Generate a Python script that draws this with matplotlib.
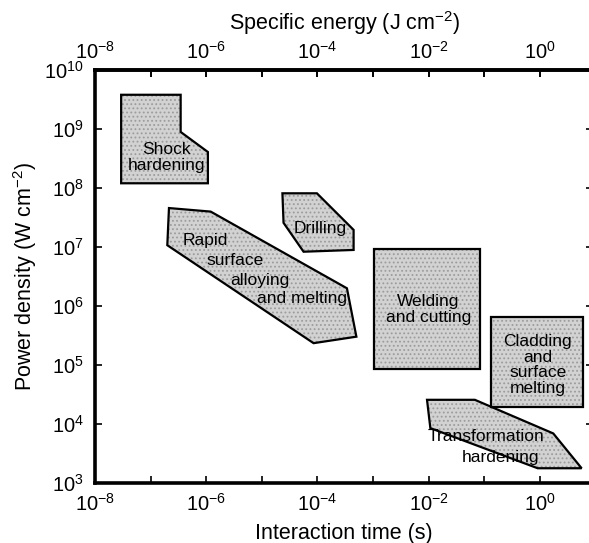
import numpy as np
import matplotlib
matplotlib.use('Agg')
import matplotlib.pyplot as plt
from matplotlib.patches import Polygon
from matplotlib.ticker import FixedLocator, FuncFormatter, NullLocator

plt.rcParams['font.family'] = ['Liberation Sans', 'DejaVu Sans']
plt.rcParams['mathtext.fontset'] = 'custom'
plt.rcParams['mathtext.rm'] = 'Liberation Sans'
plt.rcParams['mathtext.it'] = 'Liberation Sans:italic'
plt.rcParams['mathtext.bf'] = 'Liberation Sans:bold'
plt.rcParams['axes.unicode_minus'] = False
plt.rcParams['hatch.linewidth'] = 0.8

# process regions, vertices as log10 of (interaction time s, power density W/cm2)
shock_t = [-7.53, -6.46, -6.46, -5.97, -5.97, -7.53]
shock_p = [9.58, 9.58, 8.95, 8.61, 8.08, 8.08]

drill_t = [-4.63, -4.01, -3.35, -3.35, -4.25, -4.61]
drill_p = [7.91, 7.91, 7.29, 6.95, 6.92, 7.41]

rapid_t = [-6.67, -5.92, -3.47, -3.30, -4.07, -6.70]
rapid_p = [7.66, 7.60, 6.30, 5.48, 5.37, 7.03]

weld_t = [-2.99, -1.08, -1.08, -2.99]
weld_p = [6.96, 6.96, 4.93, 4.93]

clad_t = [-0.88, 0.77, 0.77, -0.88]
clad_p = [5.82, 5.82, 4.29, 4.29]

trans_t = [-2.03, -1.17, 0.24, 0.75, -0.04, -1.97]
trans_p = [4.41, 4.41, 3.84, 3.25, 3.25, 3.93]

regions = [(shock_t, shock_p), (drill_t, drill_p), (rapid_t, rapid_p),
           (weld_t, weld_p), (clad_t, clad_p), (trans_t, trans_p)]

# labels: text, log10 t, log10 p
label_text = ['Shock\nhardening', 'Drilling', 'Rapid', 'surface', 'alloying',
              'and melting', 'Welding\nand cutting',
              'Cladding\nand\nsurface\nmelting', 'Transformation', 'hardening']
label_t = [-6.72, -3.95, -6.02, -5.48, -5.03, -4.27, -2.01, -0.04, -0.97, -0.70]
label_p = [8.51, 7.32, 7.11, 6.77, 6.44, 6.13, 5.94, 5.00, 3.79, 3.43]

x_exp = np.arange(-8, 1)
y_exp = np.arange(3, 11)

fig = plt.figure(figsize=(5.89, 5.43), dpi=100)
ax = fig.add_axes([0.1613, 0.1105, 0.8460, 0.7606])
ax.set_xscale('log')
ax.set_yscale('log')
ax.set_xlim(1e-8, 10 ** 0.96)
ax.set_ylim(1e3, 1e10)

# stippled grey fill like the printed figure, then black outline on top
for t, p in regions:
    xy = np.column_stack([10.0 ** np.array(t), 10.0 ** np.array(p)])
    fill = Polygon(xy, closed=True, facecolor='#d2d2d2', edgecolor='#9c9c9c',
                   hatch='....', linewidth=0, zorder=2)
    ax.add_patch(fill)
    edge = Polygon(xy, closed=True, fill=False, edgecolor='black',
                   linewidth=1.6, joinstyle='miter', zorder=2.5)
    ax.add_patch(edge)

for s, t, p in zip(label_text, label_t, label_p):
    ax.text(10.0 ** t, 10.0 ** p, s, ha='center', va='center', fontsize=12.5,
            linespacing=1.08, zorder=3)


def xfmt(v, pos):
    e = int(round(np.log10(v)))
    if e % 2 == 0:
        return r'$\mathregular{10^{%d}}$' % e
    return ''


def yfmt(v, pos):
    e = int(round(np.log10(v)))
    return r'$\mathregular{10^{%d}}$' % e


ax.xaxis.set_major_locator(FixedLocator(10.0 ** x_exp))
ax.xaxis.set_major_formatter(FuncFormatter(xfmt))
ax.xaxis.set_minor_locator(NullLocator())
ax.yaxis.set_major_locator(FixedLocator(10.0 ** y_exp))
ax.yaxis.set_major_formatter(FuncFormatter(yfmt))
ax.yaxis.set_minor_locator(NullLocator())
ax.tick_params(which='major', direction='in', length=5, width=1.2,
               labelsize=14.5, top=True, right=True)
ax.tick_params(axis='x', pad=7)
ax.tick_params(axis='y', pad=8)

# top axis: specific energy, same decades
sec = ax.secondary_xaxis('top', functions=(lambda v: v, lambda v: v))
sec.xaxis.set_major_locator(FixedLocator(10.0 ** x_exp))
sec.xaxis.set_major_formatter(FuncFormatter(xfmt))
sec.xaxis.set_minor_locator(NullLocator())
sec.tick_params(direction='in', length=5, width=1.2, labelsize=14.5, pad=5)
sec.spines['top'].set_linewidth(2.6)
sec.set_xlabel(r'Specific energy (J cm$^{-2}$)', fontsize=15.5, labelpad=8)

for sp in ax.spines.values():
    sp.set_linewidth(2.6)

ax.set_xlabel('Interaction time (s)', fontsize=15.5, labelpad=6)
ax.set_ylabel(r'Power density (W cm$^{-2}$)', fontsize=15.5, labelpad=4)

fig.savefig('out.png', dpi=100)
